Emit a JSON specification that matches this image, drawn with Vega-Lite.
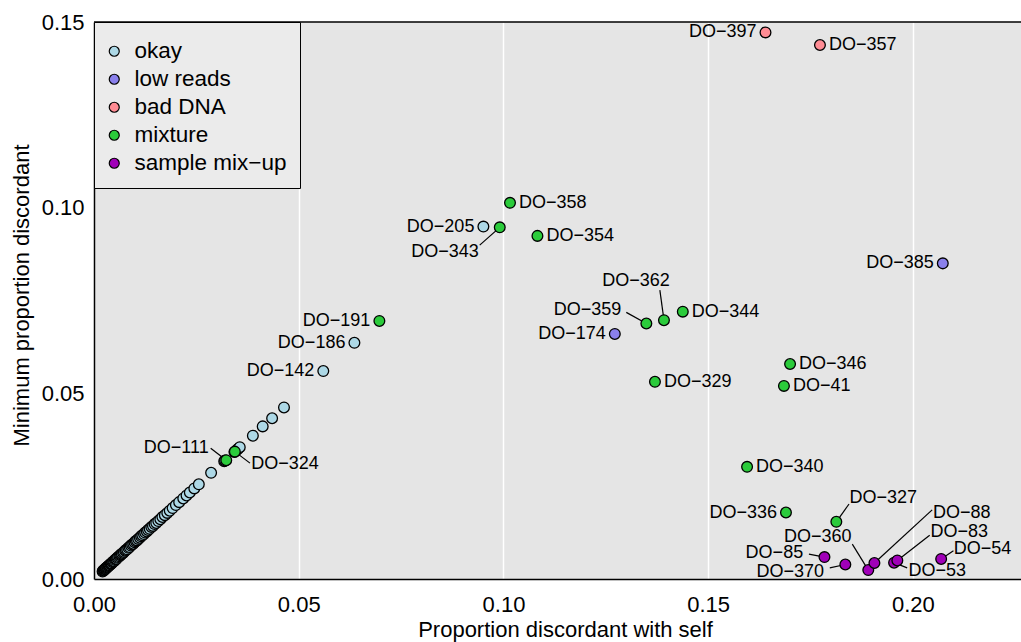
{
  "$schema": "https://vega.github.io/schema/vega-lite/v6.json",
  "width": 927,
  "height": 557,
  "autosize": {"type": "none"},
  "padding": {"left": 94, "top": 22, "right": 0, "bottom": 63},
  "background": "white",
  "config": {
    "view": {"fill": "#e5e5e5", "stroke": null},
    "font": "Liberation Sans",
    "axis": {
      "labelFont": "Liberation Sans", "labelFontSize": 22, "labelColor": "black",
      "titleFont": "Liberation Sans", "titleFontSize": 22, "titleFontWeight": "normal", "titleColor": "black",
      "domainColor": "black", "domainWidth": 1.5, "ticks": false, "tickSize": 0,
      "gridColor": "white", "gridWidth": 1.5, "gridOpacity": 1, "labelFlush": false
    }
  },
  "datasets": {
    "pts": [
      {"s": "", "x": 0.0021, "y": 0.0020, "g": "okay"},
      {"s": "", "x": 0.0022, "y": 0.0022, "g": "okay"},
      {"s": "", "x": 0.0024, "y": 0.0023, "g": "okay"},
      {"s": "", "x": 0.0025, "y": 0.0025, "g": "okay"},
      {"s": "", "x": 0.0026, "y": 0.0026, "g": "okay"},
      {"s": "", "x": 0.0028, "y": 0.0027, "g": "okay"},
      {"s": "", "x": 0.0029, "y": 0.0029, "g": "okay"},
      {"s": "", "x": 0.0030, "y": 0.0030, "g": "okay"},
      {"s": "", "x": 0.0032, "y": 0.0031, "g": "okay"},
      {"s": "", "x": 0.0033, "y": 0.0033, "g": "okay"},
      {"s": "", "x": 0.0035, "y": 0.0035, "g": "okay"},
      {"s": "", "x": 0.0036, "y": 0.0036, "g": "okay"},
      {"s": "", "x": 0.0038, "y": 0.0037, "g": "okay"},
      {"s": "", "x": 0.0040, "y": 0.0040, "g": "okay"},
      {"s": "", "x": 0.0041, "y": 0.0041, "g": "okay"},
      {"s": "", "x": 0.0043, "y": 0.0042, "g": "okay"},
      {"s": "", "x": 0.0045, "y": 0.0045, "g": "okay"},
      {"s": "", "x": 0.0047, "y": 0.0047, "g": "okay"},
      {"s": "", "x": 0.0049, "y": 0.0048, "g": "okay"},
      {"s": "", "x": 0.0051, "y": 0.0051, "g": "okay"},
      {"s": "", "x": 0.0053, "y": 0.0053, "g": "okay"},
      {"s": "", "x": 0.0055, "y": 0.0054, "g": "okay"},
      {"s": "", "x": 0.0057, "y": 0.0057, "g": "okay"},
      {"s": "", "x": 0.0059, "y": 0.0059, "g": "okay"},
      {"s": "", "x": 0.0062, "y": 0.0061, "g": "okay"},
      {"s": "", "x": 0.0064, "y": 0.0064, "g": "okay"},
      {"s": "", "x": 0.0066, "y": 0.0066, "g": "okay"},
      {"s": "", "x": 0.0068, "y": 0.0068, "g": "okay"},
      {"s": "", "x": 0.0071, "y": 0.0070, "g": "okay"},
      {"s": "", "x": 0.0073, "y": 0.0073, "g": "okay"},
      {"s": "", "x": 0.0076, "y": 0.0076, "g": "okay"},
      {"s": "", "x": 0.0078, "y": 0.0078, "g": "okay"},
      {"s": "", "x": 0.0081, "y": 0.0080, "g": "okay"},
      {"s": "", "x": 0.0084, "y": 0.0084, "g": "okay"},
      {"s": "", "x": 0.0087, "y": 0.0086, "g": "okay"},
      {"s": "", "x": 0.0090, "y": 0.0090, "g": "okay"},
      {"s": "", "x": 0.0093, "y": 0.0093, "g": "okay"},
      {"s": "", "x": 0.0096, "y": 0.0095, "g": "okay"},
      {"s": "", "x": 0.0099, "y": 0.0099, "g": "okay"},
      {"s": "", "x": 0.0102, "y": 0.0102, "g": "okay"},
      {"s": "", "x": 0.0105, "y": 0.0104, "g": "okay"},
      {"s": "", "x": 0.0108, "y": 0.0108, "g": "okay"},
      {"s": "", "x": 0.0112, "y": 0.0111, "g": "okay"},
      {"s": "", "x": 0.0115, "y": 0.0115, "g": "okay"},
      {"s": "", "x": 0.0118, "y": 0.0118, "g": "okay"},
      {"s": "", "x": 0.0122, "y": 0.0121, "g": "okay"},
      {"s": "", "x": 0.0125, "y": 0.0125, "g": "okay"},
      {"s": "", "x": 0.0129, "y": 0.0128, "g": "okay"},
      {"s": "", "x": 0.0132, "y": 0.0132, "g": "okay"},
      {"s": "", "x": 0.0136, "y": 0.0135, "g": "okay"},
      {"s": "", "x": 0.0140, "y": 0.0140, "g": "okay"},
      {"s": "", "x": 0.0144, "y": 0.0143, "g": "okay"},
      {"s": "", "x": 0.0148, "y": 0.0148, "g": "okay"},
      {"s": "", "x": 0.0152, "y": 0.0151, "g": "okay"},
      {"s": "", "x": 0.0157, "y": 0.0156, "g": "okay"},
      {"s": "", "x": 0.0162, "y": 0.0161, "g": "okay"},
      {"s": "", "x": 0.0167, "y": 0.0167, "g": "okay"},
      {"s": "", "x": 0.0173, "y": 0.0172, "g": "okay"},
      {"s": "", "x": 0.0179, "y": 0.0178, "g": "okay"},
      {"s": "", "x": 0.0185, "y": 0.0184, "g": "okay"},
      {"s": "", "x": 0.0192, "y": 0.0191, "g": "okay"},
      {"s": "", "x": 0.0200, "y": 0.0199, "g": "okay"},
      {"s": "", "x": 0.0208, "y": 0.0207, "g": "okay"},
      {"s": "", "x": 0.0218, "y": 0.0217, "g": "okay"},
      {"s": "", "x": 0.0226, "y": 0.0225, "g": "okay"},
      {"s": "", "x": 0.0234, "y": 0.0233, "g": "okay"},
      {"s": "", "x": 0.0245, "y": 0.0244, "g": "okay"},
      {"s": "", "x": 0.0256, "y": 0.0255, "g": "okay"},
      {"s": "", "x": 0.0286, "y": 0.0286, "g": "okay"},
      {"s": "", "x": 0.0318, "y": 0.0317, "g": "okay"},
      {"s": "", "x": 0.0320, "y": 0.0319, "g": "okay"},
      {"s": "", "x": 0.0343, "y": 0.0342, "g": "okay"},
      {"s": "", "x": 0.0348, "y": 0.0347, "g": "okay"},
      {"s": "", "x": 0.0352, "y": 0.0351, "g": "okay"},
      {"s": "", "x": 0.0356, "y": 0.0355, "g": "okay"},
      {"s": "", "x": 0.0388, "y": 0.0386, "g": "okay"},
      {"s": "", "x": 0.0412, "y": 0.0411, "g": "okay"},
      {"s": "", "x": 0.0435, "y": 0.0433, "g": "okay"},
      {"s": "", "x": 0.0464, "y": 0.0462, "g": "okay"},
      {"s": "DO−205", "x": 0.0951, "y": 0.0949, "g": "okay", "side": "left"},
      {"s": "DO−186", "x": 0.0636, "y": 0.0636, "g": "okay", "side": "left"},
      {"s": "DO−142", "x": 0.0560, "y": 0.0560, "g": "okay", "side": "left"},
      {"s": "DO−174", "x": 0.1272, "y": 0.0660, "g": "low reads", "side": "left"},
      {"s": "DO−385", "x": 0.2073, "y": 0.0850, "g": "low reads", "side": "left"},
      {"s": "DO−397", "x": 0.1640, "y": 0.1472, "g": "bad DNA", "side": "left"},
      {"s": "DO−357", "x": 0.1773, "y": 0.1438, "g": "bad DNA", "side": "right"},
      {"s": "DO−358", "x": 0.1016, "y": 0.1013, "g": "mixture", "side": "right"},
      {"s": "DO−354", "x": 0.1083, "y": 0.0924, "g": "mixture", "side": "right"},
      {"s": "DO−344", "x": 0.1438, "y": 0.0720, "g": "mixture", "side": "right"},
      {"s": "DO−329", "x": 0.1370, "y": 0.0531, "g": "mixture", "side": "right"},
      {"s": "DO−191", "x": 0.0697, "y": 0.0695, "g": "mixture", "side": "left"},
      {"s": "DO−346", "x": 0.1700, "y": 0.0579, "g": "mixture", "side": "right"},
      {"s": "DO−41", "x": 0.1685, "y": 0.0520, "g": "mixture", "side": "right"},
      {"s": "DO−340", "x": 0.1595, "y": 0.0302, "g": "mixture", "side": "right"},
      {"s": "DO−336", "x": 0.1690, "y": 0.0179, "g": "mixture", "side": "left"},
      {"s": "DO−343", "x": 0.0991, "y": 0.0947, "g": "mixture", "side": "left", "tx": 0.0940, "ty": 0.0880, "ex": 0.0942, "ey": 0.0899},
      {"s": "DO−362", "x": 0.1392, "y": 0.0697, "g": "mixture", "side": "right", "tx": 0.1241, "ty": 0.0803, "ex": 0.1382, "ey": 0.0778},
      {"s": "DO−359", "x": 0.1349, "y": 0.0688, "g": "mixture", "side": "left", "tx": 0.1288, "ty": 0.0725, "ex": 0.1300, "ey": 0.0718},
      {"s": "DO−111", "x": 0.0323, "y": 0.0320, "g": "mixture", "side": "left", "tx": 0.0280, "ty": 0.0353, "ex": 0.0285, "ey": 0.0352},
      {"s": "DO−324", "x": 0.0344, "y": 0.0343, "g": "mixture", "side": "right", "tx": 0.0384, "ty": 0.0310, "ex": 0.0381, "ey": 0.0312},
      {"s": "DO−327", "x": 0.1813, "y": 0.0154, "g": "mixture", "side": "right", "tx": 0.1845, "ty": 0.0217, "ex": 0.1844, "ey": 0.0202},
      {"s": "DO−85", "x": 0.1784, "y": 0.0059, "g": "sample mix−up", "side": "left", "tx": 0.1732, "ty": 0.0071, "ex": 0.1746, "ey": 0.0067},
      {"s": "DO−370", "x": 0.1835, "y": 0.0039, "g": "sample mix−up", "side": "left", "tx": 0.1783, "ty": 0.0020, "ex": 0.1797, "ey": 0.0030},
      {"s": "DO−360", "x": 0.1891, "y": 0.0024, "g": "sample mix−up", "side": "left", "tx": 0.1850, "ty": 0.0113, "ex": 0.1852, "ey": 0.0094},
      {"s": "DO−88", "x": 0.1906, "y": 0.0043, "g": "sample mix−up", "side": "right", "tx": 0.2049, "ty": 0.0179, "ex": 0.2047, "ey": 0.0186},
      {"s": "DO−53", "x": 0.1954, "y": 0.0044, "g": "sample mix−up", "side": "right", "tx": 0.1989, "ty": 0.0022, "ex": 0.1986, "ey": 0.0030},
      {"s": "DO−83", "x": 0.1962, "y": 0.0050, "g": "sample mix−up", "side": "right", "tx": 0.2043, "ty": 0.0126, "ex": 0.2041, "ey": 0.0118},
      {"s": "DO−54", "x": 0.2069, "y": 0.0054, "g": "sample mix−up", "side": "right", "tx": 0.2100, "ty": 0.0080, "ex": 0.2099, "ey": 0.0076}
    ]
  },
  "data": {"name": "pts"},
  "layer": [
    {
      "data": {"values": [{}]},
      "mark": {"type": "rule", "color": "black", "strokeWidth": 1.5},
      "encoding": {"y": {"datum": 0.15, "type": "quantitative", "scale": {"domain": [0, 0.15]}, "title": "Minimum proportion discordant"}}
    },
    {
      "transform": [{"filter": "datum.ex != null"}],
      "mark": {"type": "rule", "color": "black", "strokeWidth": 1.2},
      "encoding": {
        "x": {"field": "x", "type": "quantitative", "scale": {"domain": [0, 0.2264]}, "title": "Proportion discordant with self"},
        "y": {"field": "y", "type": "quantitative", "scale": {"domain": [0, 0.15]}, "title": "Minimum proportion discordant"},
        "x2": {"field": "ex"},
        "y2": {"field": "ey"}
      }
    },
    {
      "mark": {"type": "point", "shape": "circle", "filled": true, "opacity": 1, "stroke": "black", "strokeWidth": 1.3, "size": 115},
      "encoding": {
        "x": {"field": "x", "type": "quantitative", "scale": {"domain": [0, 0.2264]}, "title": "Proportion discordant with self",
              "axis": {"values": [0, 0.05, 0.1, 0.15, 0.2], "format": ".2f", "labelPadding": 15, "titlePadding": 4, "titleX": 471}},
        "y": {"field": "y", "type": "quantitative", "scale": {"domain": [0, 0.15]}, "title": "Minimum proportion discordant",
              "axis": {"values": [0, 0.05, 0.1, 0.15], "format": ".2f", "labelPadding": 10, "titlePadding": 8, "titleY": 273}},
        "color": {
          "field": "g", "type": "nominal",
          "scale": {"domain": ["okay", "low reads", "bad DNA", "mixture", "sample mix−up"],
                    "range": ["#ADD8E6", "#8A80EC", "#FF8C94", "#2BCB3B", "#A000B8"]},
          "legend": {"title": " ", "titleFontSize": 5, "titlePadding": 0, "orient": "none", "legendX": 0, "legendY": 0,
                     "fillColor": "#ebebeb", "strokeColor": "black", "padding": 13,
                     "labelFont": "Liberation Sans", "labelFontSize": 22.5, "labelColor": "black", "labelOffset": 9,
                     "symbolOffset": -4,
                     "symbolType": "circle", "symbolSize": 100, "symbolStrokeColor": "black", "symbolStrokeWidth": 1.2,
                     "symbolOpacity": 1, "rowPadding": 5}
        }
      }
    },
    {
      "transform": [{"filter": "datum.side == 'right' && datum.tx == null"}],
      "mark": {"type": "text", "align": "left", "baseline": "middle", "dx": 9, "fontSize": 18, "font": "Liberation Sans", "color": "black"},
      "encoding": {
        "x": {"field": "x", "type": "quantitative", "scale": {"domain": [0, 0.2264]}, "title": "Proportion discordant with self"},
        "y": {"field": "y", "type": "quantitative", "scale": {"domain": [0, 0.15]}, "title": "Minimum proportion discordant"},
        "text": {"field": "s"}
      }
    },
    {
      "transform": [{"filter": "datum.side == 'left' && datum.tx == null"}],
      "mark": {"type": "text", "align": "right", "baseline": "middle", "dx": -9, "fontSize": 18, "font": "Liberation Sans", "color": "black"},
      "encoding": {
        "x": {"field": "x", "type": "quantitative", "scale": {"domain": [0, 0.2264]}, "title": "Proportion discordant with self"},
        "y": {"field": "y", "type": "quantitative", "scale": {"domain": [0, 0.15]}, "title": "Minimum proportion discordant"},
        "text": {"field": "s"}
      }
    },
    {
      "transform": [{"filter": "datum.side == 'right' && datum.tx != null"}],
      "mark": {"type": "text", "align": "left", "baseline": "middle", "fontSize": 18, "font": "Liberation Sans", "color": "black"},
      "encoding": {
        "x": {"field": "tx", "type": "quantitative", "scale": {"domain": [0, 0.2264]}, "title": "Proportion discordant with self"},
        "y": {"field": "ty", "type": "quantitative", "scale": {"domain": [0, 0.15]}, "title": "Minimum proportion discordant"},
        "text": {"field": "s"}
      }
    },
    {
      "transform": [{"filter": "datum.side == 'left' && datum.tx != null"}],
      "mark": {"type": "text", "align": "right", "baseline": "middle", "fontSize": 18, "font": "Liberation Sans", "color": "black"},
      "encoding": {
        "x": {"field": "tx", "type": "quantitative", "scale": {"domain": [0, 0.2264]}, "title": "Proportion discordant with self"},
        "y": {"field": "ty", "type": "quantitative", "scale": {"domain": [0, 0.15]}, "title": "Minimum proportion discordant"},
        "text": {"field": "s"}
      }
    }
  ]
}
